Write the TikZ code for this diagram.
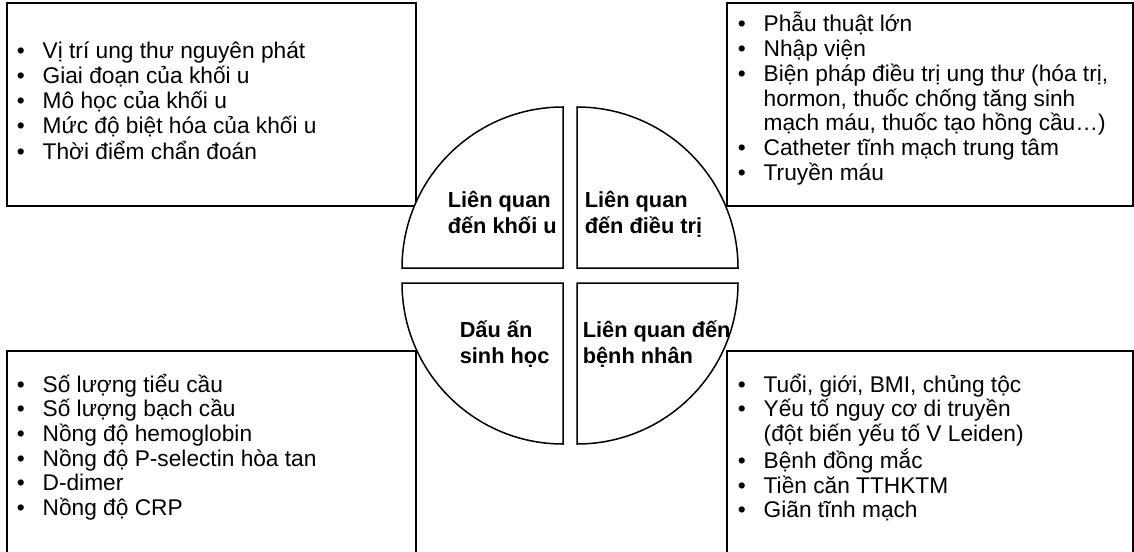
\documentclass[tikz,border=0pt]{standalone}
\usepackage{fontspec}
\setmainfont{Liberation Sans}

\begin{document}
\begin{tikzpicture}[x=0.5pt,y=-0.5pt,line width=0.75pt,
	listtext/.style={anchor=base west,inner sep=0pt,font=\fontsize{11.35}{12.25}\selectfont},
	quartlabel/.style={anchor=base west,inner sep=0pt,font=\fontsize{10.9}{13}\selectfont\bfseries},
	quart/.style={draw=black,fill=white}]
	\useasboundingbox (0,0) rectangle (1134,551);
	\clip (0,0) rectangle (1134,551);
	
	%boxes round the circle
	\draw (7,3) rectangle (416,206);		%top left
	\draw (727,3) rectangle (1133,206);	%top right
	\draw (7,351) rectangle (416,570);	%bottom left
	\draw (727,351) rectangle (1133,570);	%bottom right
	
	%quarters of the circle
	\path[quart] (563,268) -- (402,268) arc[start angle=180,end angle=270,radius=161] -- cycle;
	\path[quart] (577,268) -- (577,107) arc[start angle=270,end angle=360,radius=161] -- cycle;
	\path[quart] (563,283) -- (402,283) arc[start angle=180,end angle=90,radius=161] -- cycle;
	\path[quart] (577,283) -- (738,283) arc[start angle=0,end angle=90,radius=161] -- cycle;
	
	%labels of the quarters
	\node[quartlabel] (tumour) at (447,207) {\begin{tabular}[t]{@{}l@{}}Liên quan\\đến khối u\end{tabular}};
	\node[quartlabel] (treat)  at (584,207) {\begin{tabular}[t]{@{}l@{}}Liên quan\\đến điều trị\end{tabular}};
	\node[quartlabel] (marker) at (459,337) {\begin{tabular}[t]{@{}l@{}}Dấu ấn\\sinh học\end{tabular}};
	\node[quartlabel] (patient) at (582,337) {\begin{tabular}[t]{@{}l@{}}Liên quan đến\\bệnh nhân\end{tabular}};
	
	%lists
	\node[listtext] (tumourlist) at (16,59) {\begin{tabular}[t]{@{}l@{\hspace{9pt}}l@{}}
		\textbullet & Vị trí ung thư nguyên phát\\
		\textbullet & Giai đoạn của khối u\\
		\textbullet & Mô học của khối u\\
		\textbullet & Mức độ biệt hóa của khối u\\
		\textbullet & Thời điểm chẩn đoán
	\end{tabular}};
	\node[listtext] (treatlist) at (737,32) {\begin{tabular}[t]{@{}l@{\hspace{9pt}}l@{}}
		\textbullet & Phẫu thuật lớn\\
		\textbullet & Nhập viện\\
		\textbullet & Biện pháp điều trị ung thư (hóa trị,\\
		            & hormon, thuốc chống tăng sinh\\
		            & mạch máu, thuốc tạo hồng cầu…)\\
		\textbullet & Catheter tĩnh mạch trung tâm\\
		\textbullet & Truyền máu
	\end{tabular}};
	\node[listtext] (markerlist) at (16,392) {\begin{tabular}[t]{@{}l@{\hspace{9pt}}l@{}}
		\textbullet & Số lượng tiểu cầu\\
		\textbullet & Số lượng bạch cầu\\
		\textbullet & Nồng độ hemoglobin\\
		\textbullet & Nồng độ P-selectin hòa tan\\
		\textbullet & D-dimer\\
		\textbullet & Nồng độ CRP
	\end{tabular}};
	\node[listtext] (patientlist) at (737,392) {\begin{tabular}[t]{@{}l@{\hspace{9pt}}l@{}}
		\textbullet & Tuổi, giới, BMI, chủng tộc\\
		\textbullet & Yếu tố nguy cơ di truyền\\
		            & (đột biến yếu tố V Leiden)\\
		\textbullet & Bệnh đồng mắc\\
		\textbullet & Tiền căn TTHKTM\\
		\textbullet & Giãn tĩnh mạch
	\end{tabular}};
\end{tikzpicture}
\end{document}
